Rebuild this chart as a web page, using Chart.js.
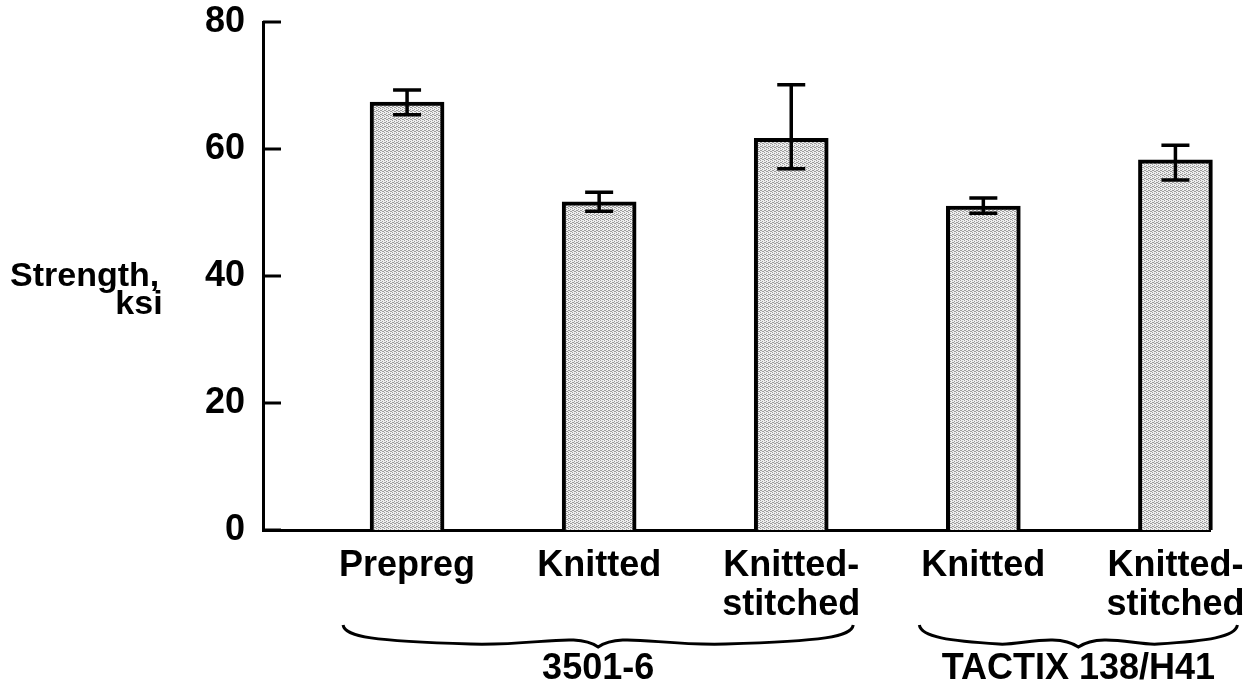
<!DOCTYPE html>
<html>
<head>
<meta charset="utf-8">
<script src="https://cdn.jsdelivr.net/npm/chart.js@4.4.1/dist/chart.umd.min.js"></script>
<style>
  html, body { margin: 0; padding: 0; background: #fff; }
  #wrap { width: 1252px; height: 694px; }
</style>
</head>
<body>
<div id="wrap"><canvas id="strengthChart"></canvas></div>
<script>
// categories, one entry per bar (multi-line labels as arrays)
const categories = [['Prepreg'], ['Knitted'], ['Knitted-', 'stitched'], ['Knitted'], ['Knitted-', 'stitched']];
const positions = [0, 1, 2, 3, 4];
const strength = [67.4, 51.7, 61.7, 51.0, 58.3];
const errHigh = [69.3, 53.2, 70.1, 52.3, 60.6];
const errLow = [65.4, 50.2, 56.9, 49.9, 55.1];
const yTicks = [0, 20, 40, 60, 80];
const groupLabels = ['3501-6', 'TACTIX 138/H41'];
const groupStart = [0, 3];
const groupEnd = [2, 4];

const FONT = '"Liberation Sans", Arial, Helvetica, sans-serif';

// stippled grey fill like the printed halftone
function stipple() {
    const c = document.createElement('canvas');
    c.width = 4; c.height = 4;
    const g = c.getContext('2d');
    g.fillStyle = '#eeeeee';
    g.fillRect(0, 0, 4, 4);
    g.fillStyle = '#9c9c9c';
    [[0, 0], [2, 1], [1, 2], [3, 3], [2, 3], [0, 2]].forEach(([px, py]) => g.fillRect(px, py, 1, 1));
    return g.createPattern(c, 'repeat');
}

const errorBars = {
    id: 'errorBars',
    afterDatasetsDraw(chart) {
        const { ctx, scales: { x, y } } = chart;
        ctx.save();
        ctx.strokeStyle = '#000';
        ctx.lineWidth = 3.5;
        positions.forEach((p, i) => {
            const px = x.getPixelForValue(p);
            const top = y.getPixelForValue(errHigh[i]);
            const bot = y.getPixelForValue(errLow[i]);
            ctx.beginPath();
            ctx.moveTo(px, top); ctx.lineTo(px, bot);
            ctx.moveTo(px - 14, top); ctx.lineTo(px + 14, top);
            ctx.moveTo(px - 14, bot); ctx.lineTo(px + 14, bot);
            ctx.stroke();
        });
        ctx.restore();
    }
};

const decorations = {
    id: 'decorations',
    afterDraw(chart) {
        const { ctx, scales: { x, y }, chartArea } = chart;
        ctx.save();
        // inward y ticks
        ctx.strokeStyle = '#000';
        ctx.lineWidth = 3;
        y.ticks.forEach(t => {
            const py = y.getPixelForValue(t.value);
            ctx.beginPath();
            ctx.moveTo(chartArea.left, py);
            ctx.lineTo(chartArea.left + 18, py);
            ctx.stroke();
        });

        // y title, horizontal
        ctx.fillStyle = '#000';
        ctx.font = 'bold 34px ' + FONT;
        ctx.textBaseline = 'alphabetic';
        ctx.textAlign = 'left';
        ctx.fillText('Strength,', 10, 286);
        ctx.textAlign = 'center';
        ctx.fillText('ksi', 139, 314);

        // group braces
        ctx.lineWidth = 3;
        groupLabels.forEach((label, g) => {
            const x1 = x.getPixelForValue(groupStart[g]) - 64;
            const x2 = x.getPixelForValue(groupEnd[g]) + 62;
            const mid = (x1 + x2) / 2;
            const y0 = 625;
            ctx.beginPath();
            ctx.moveTo(x1, y0);
            ctx.bezierCurveTo(x1 + 2, y0 + 12, x1 + 30, y0 + 16, x1 + (mid - x1) * 0.5, y0 + 19);
            ctx.bezierCurveTo(mid - 60, y0 + 21, mid - 22, y0 + 7, mid, y0 + 22);
            ctx.bezierCurveTo(mid + 22, y0 + 7, mid + 60, y0 + 21, x2 - (x2 - mid) * 0.5, y0 + 19);
            ctx.bezierCurveTo(x2 - 30, y0 + 16, x2 - 2, y0 + 12, x2, y0);
            ctx.stroke();

            ctx.font = 'bold 36px ' + FONT;
            ctx.textAlign = 'center';
            ctx.textBaseline = 'middle';
            ctx.fillText(label, mid, 669);
        });
        ctx.restore();
    }
};

const ctx = document.getElementById('strengthChart').getContext('2d');
new Chart(ctx, {
    type: 'bar',
    data: {
        datasets: [{
            data: positions.map((p, i) => ({ x: p, y: strength[i] })),
            backgroundColor: stipple(),
            borderColor: '#000',
            borderWidth: 4,
            borderSkipped: 'bottom',
            barThickness: 74,
            clip: false
        }]
    },
    options: {
        responsive: true,
        maintainAspectRatio: false,
        animation: false,
        layout: { padding: { left: 0, right: 42, top: 22, bottom: 0 } },
        plugins: {
            legend: { display: false },
            tooltip: { enabled: false }
        },
        scales: {
            x: {
                type: 'linear',
                offset: false,
                min: -0.75,
                max: 4.18,
                afterBuildTicks: s => { s.ticks = positions.map(v => ({ value: v })); },
                afterFit: s => { s.height = 164; s.paddingLeft = 0; s.paddingRight = 0; },
                grid: { display: false, drawTicks: false },
                border: { display: true, color: '#000', width: 3 },
                ticks: {
                    color: '#000',
                    padding: 17,
                    maxRotation: 0,
                    autoSkip: false,
                    font: { family: FONT, size: 36, weight: 'bold', lineHeight: 1.08 },
                    callback: v => categories[v]
                }
            },
            y: {
                min: 0,
                max: 80,
                afterBuildTicks: s => { s.ticks = yTicks.map(v => ({ value: v })); },
                afterFit: s => { s.width = 263; s.paddingTop = 0; s.paddingBottom = 0; },
                grid: { display: false, drawTicks: false },
                border: { display: true, color: '#000', width: 3 },
                ticks: {
                    color: '#000',
                    padding: 18,
                    font: { family: FONT, size: 36, weight: 'bold' }
                }
            }
        }
    },
    plugins: [errorBars, decorations]
});
</script>
</body>
</html>
